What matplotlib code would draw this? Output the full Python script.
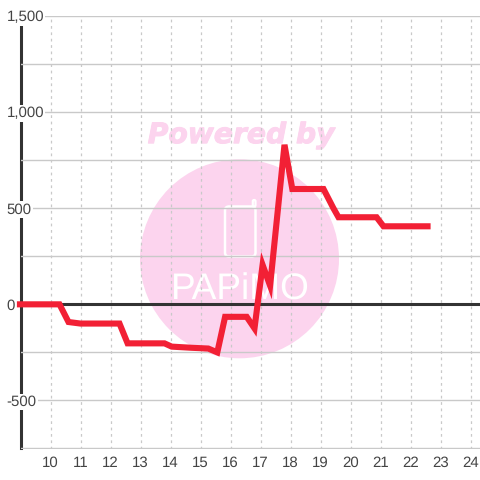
import matplotlib
matplotlib.use("Agg")
import matplotlib.pyplot as plt
import matplotlib.patheffects as pe
from matplotlib.patches import Circle, FancyBboxPatch
from matplotlib.transforms import IdentityTransform

plt.rcParams['text.hinting'] = 'no_hinting'
plt.rcParams['text.hinting_factor'] = 1

hours = [8.88, 10.3, 10.6, 11.0, 12.3, 12.57, 13.8, 14.04, 14.7, 15.26, 15.56, 15.82,
         16.54, 16.8, 17.07, 17.32, 17.8, 18.06, 19.1, 19.43, 19.6, 20.87, 21.1, 22.67]
values = [0, 0, -92, -100, -100, -203, -203, -220, -226, -230, -250, -65,
          -65, -125, 205, 97, 830, 600, 600, 500, 453, 453, 406, 406]
x_ticks = list(range(10, 25))
y_ticks = [-750, -500, -250, 0, 250, 500, 750, 1000, 1250, 1500]
y_labels = ['', '-500', '', '0', '', '500', '', '1,000', '', '1,500']

W = 480
fig = plt.figure(figsize=(4.8, 4.8), dpi=100, facecolor='white')
L, R, T, B = 20.5, 480, 16, 448.5
ax = fig.add_axes([L / W, 1 - B / W, (R - L) / W, (B - T) / W])
ax.patch.set_visible(False)
ax.set_xlim(9, 9 + (R - L) / 30)
ax.set_ylim(-750, 1500)

# Watermark, in pixel coordinates of the figure
PINK = '#fcd4ee'
px = IdentityTransform()
def Y(v):
    return W - v
fig.patches.append(Circle((239.5, Y(258.8)), 99.5, transform=px, fc=PINK, ec='none', zorder=-3))
fig.patches.append(FancyBboxPatch((225, Y(256.5)), 30.5, 50, boxstyle='round,pad=0,rounding_size=4',
                                  transform=px, fc='none', ec='white', lw=1.8, zorder=-2))
fig.patches.append(FancyBboxPatch((252.8, Y(206.5)), 2.7, 6.5, boxstyle='round,pad=0,rounding_size=1.3',
                                  transform=px, fc=PINK, ec='white', lw=1.6, zorder=-2))
fig.text(240.5 / W, 1 - 135.5 / W, 'Powered by', color=PINK, fontsize=20.3, fontweight='bold',
         fontstyle='italic', family='DejaVu Sans', ha='center', va='center', zorder=-2,
         path_effects=[pe.withStroke(linewidth=0.7, foreground=PINK)])
fig.text(240 / W, 1 - 290 / W, 'PAPiMO', color='white', fontsize=26.5,
         family='Liberation Sans', ha='center', va='center', zorder=-2)

# Grid and axes
ax.set_axisbelow(True)
ax.grid(True, axis='y', color='#c9c9c9', lw=1, ls='-')
ax.grid(True, axis='x', color='#c9c9c9', lw=0.9, ls=(0, (2.2, 2.9)))
for s in ['top', 'right', 'bottom']:
    ax.spines[s].set_visible(False)
ax.spines['left'].set_color('#333333')
ax.spines['left'].set_linewidth(2.2)
ax.spines['left'].set_zorder(0.3)
ax.axhline(0, color='#333333', lw=2.2, zorder=1)

ax.set_xticks(x_ticks)
ax.set_yticks(y_ticks)
ax.set_yticklabels(y_labels, ha='left', family='Liberation Sans', fontsize=10.6, color='#444444',
                   bbox=dict(fc='white', ec='none', pad=1))
ax.set_xticklabels([str(v) for v in x_ticks], family='Liberation Sans', fontsize=10.6, color='#444444')
ax.tick_params(axis='both', length=0)
ax.tick_params(axis='y', pad=10)
ax.tick_params(axis='x', pad=5.5)

ax.plot(hours, values, color='#f22035', lw=4.4, solid_joinstyle='miter',
        solid_capstyle='butt', clip_on=False, zorder=3)

fig.savefig('out.png', dpi=100)
